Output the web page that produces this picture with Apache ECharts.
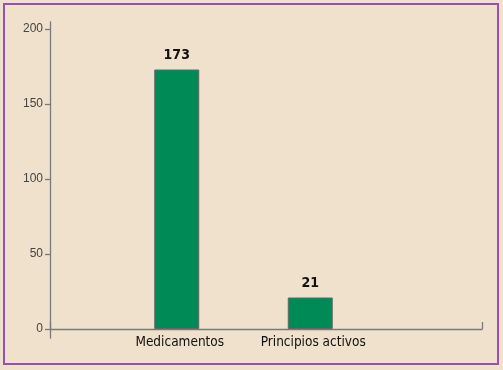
<!DOCTYPE html>
<html><head><meta charset="utf-8">
<script src="https://cdn.jsdelivr.net/npm/echarts@6/dist/echarts.min.js"></script>
<style>html,body{margin:0;padding:0;background:#f0e1cc;}#c{width:503px;height:370px;}</style>
</head><body><div id="c"></div>
<script>
const categories = ['Medicamentos', 'Principios activos'];
const values = [173, 21];
const yTicks = {min: 0, max: 200, interval: 50};

const narrow = '"Liberation Sans Narrow", "DejaVu Sans Condensed", "Arial Narrow", sans-serif';
const chart = echarts.init(document.getElementById('c'), null, {renderer: 'canvas'});
const axisColor = '#7a7a7a';
chart.setOption({
  backgroundColor: '#f0e1cc',
  animation: false,
  graphic: [{type: 'rect', shape: {x: 4, y: 4, width: 494, height: 360}, style: {fill: 'none', stroke: '#9b4fb3', lineWidth: 2}, z: 100}],
  grid: [
    {left: 50, right: 21, top: 22, bottom: 32},
    {left: 50, right: 21, top: 29, bottom: 41},
    {left: 110, width: 267, top: 29, bottom: 41}
  ],
  xAxis: [
    {gridIndex: 0, type: 'value', min: 0, max: 1, interval: 1, axisLine: {onZero: true, lineStyle: {color: axisColor, width: 1.3}},
     axisTick: {show: true, inside: true, length: 7, lineStyle: {color: axisColor, width: 1.3}}, axisLabel: {show: false}, splitLine: {show: false}},
    {gridIndex: 1, type: 'value', show: false},
    {gridIndex: 2, type: 'category', data: categories, axisLine: {show: false}, axisTick: {show: false},
     axisLabel: {margin: 6, color: '#111', fontSize: 13.5, fontFamily: narrow, interval: 0, padding: [0, 0, 0, 6]}}
  ],
  yAxis: [
    {gridIndex: 0, type: 'value', min: -6, max: 204.67, axisLine: {show: true, lineStyle: {color: axisColor, width: 1.3}},
     axisTick: {show: false}, axisLabel: {show: false}, splitLine: {show: false}},
    {gridIndex: 1, type: 'value', min: yTicks.min, max: yTicks.max, interval: yTicks.interval, axisLine: {show: false},
     axisTick: {show: true, length: 5, lineStyle: {color: axisColor, width: 1.3}},
     axisLabel: {margin: 7, color: '#444', fontSize: 12, fontFamily: '"Liberation Sans", sans-serif'}, splitLine: {show: false}},
    {gridIndex: 2, type: 'value', min: yTicks.min, max: yTicks.max, show: false}
  ],
  series: [{
    type: 'bar', xAxisIndex: 2, yAxisIndex: 2, data: values, barWidth: 45,
    itemStyle: {color: '#008a56', borderColor: '#666', borderWidth: 1},
    label: {show: true, position: 'top', distance: 7, color: '#111', fontWeight: 'bold', fontSize: 14, fontFamily: narrow}
  }]
});
</script></body></html>
